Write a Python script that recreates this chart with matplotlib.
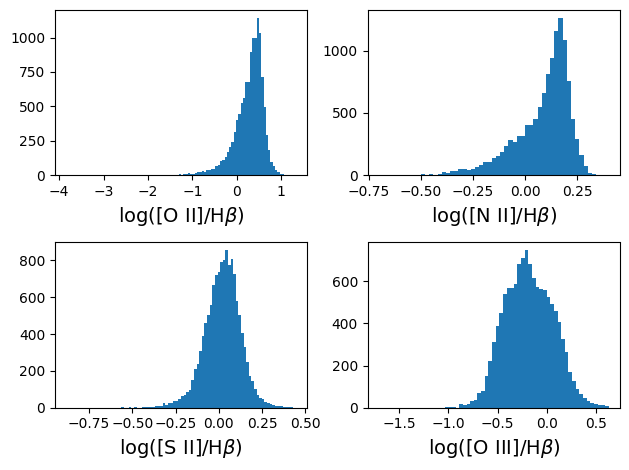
import matplotlib
matplotlib.use("Agg")
import matplotlib.pyplot as plt
import numpy as np

# bin ranges (lo, hi, nbins) and counts
o2_range = (-3.84, 1.33, 100)
o2_counts = [1, 0, 0, 0, 0, 0, 0, 0, 0, 0,
             0, 0, 0, 0, 0, 0, 0, 0, 0, 0,
             0, 0, 0, 0, 0, 0, 0, 0, 0, 0,
             0, 0, 0, 0, 0, 0, 0, 0, 0, 0,
             0, 0, 0, 0, 0, 0, 0, 0, 0, 7,
             3, 7, 7, 14, 7, 10, 14, 22, 22, 29,
             22, 36, 36, 44, 44, 65, 73, 102, 109, 131,
             167, 204, 240, 313, 400, 444, 521, 562, 676, 676,
             894, 1000, 1000, 1143, 1030, 715, 497, 291, 182, 97,
             65, 36, 22, 12, 7, 3, 1, 1, 0, 1]

n2_range = (-0.70, 0.40, 55)
n2_counts = [1, 0, 0, 0, 0, 0, 0, 0, 0, 0,
             8, 0, 8, 0, 11, 29, 18, 37, 32, 48,
             53, 45, 53, 67, 83, 110, 110, 142, 158, 190,
             235, 283, 270, 316, 316, 404, 404, 452, 551, 661,
             813, 944, 1158, 1264, 1086, 757, 452, 291, 163, 75,
             16, 8, 0, 0, 1]

s2_range = (-0.882, 0.444, 88)
s2_counts = [1, 0, 0, 0, 0, 0, 0, 0, 0, 0,
             0, 0, 0, 0, 0, 0, 0, 0, 0, 0,
             0, 4, 0, 0, 4, 0, 4, 0, 0, 4,
             4, 4, 4, 4, 9, 9, 9, 25, 14, 25,
             25, 36, 36, 50, 63, 69, 87, 96, 153, 213,
             236, 307, 389, 459, 502, 560, 668, 719, 737, 790,
             800, 855, 773, 809, 728, 578, 502, 408, 329, 246,
             172, 145, 101, 69, 51, 45, 33, 25, 18, 13,
             10, 9, 7, 5, 4, 4, 3, 1]

o3_range = (-1.703, 0.626, 63)
o3_counts = [1, 0, 0, 0, 0, 0, 0, 0, 0, 0,
             0, 0, 0, 0, 0, 0, 0, 0, 5, 5,
             5, 0, 16, 11, 16, 31, 35, 68, 79, 152,
             222, 313, 387, 447, 538, 568, 568, 588, 683, 711,
             746, 680, 615, 573, 565, 557, 524, 491, 458, 405,
             325, 264, 170, 126, 91, 63, 44, 30, 22, 18,
             14, 12, 10]

labels = [r'log([O II]/H$\beta$)', r'log([N II]/H$\beta$)',
          r'log([S II]/H$\beta$)', r'log([O III]/H$\beta$)']

fig, axes = plt.subplots(2, 2, figsize=(6.4, 4.8), dpi=100)
panels = [(o2_range, o2_counts), (n2_range, n2_counts),
          (s2_range, s2_counts), (o3_range, o3_counts)]

for ax, (rng, counts), lab in zip(axes.flat, panels, labels):
    edges = np.linspace(rng[0], rng[1], rng[2] + 1)
    centers = 0.5 * (edges[:-1] + edges[1:])
    ax.hist(centers, bins=edges, weights=counts)
    ax.set_xlabel(lab, fontsize=14)

plt.tight_layout()
plt.savefig("out.png", bbox_inches="tight")
